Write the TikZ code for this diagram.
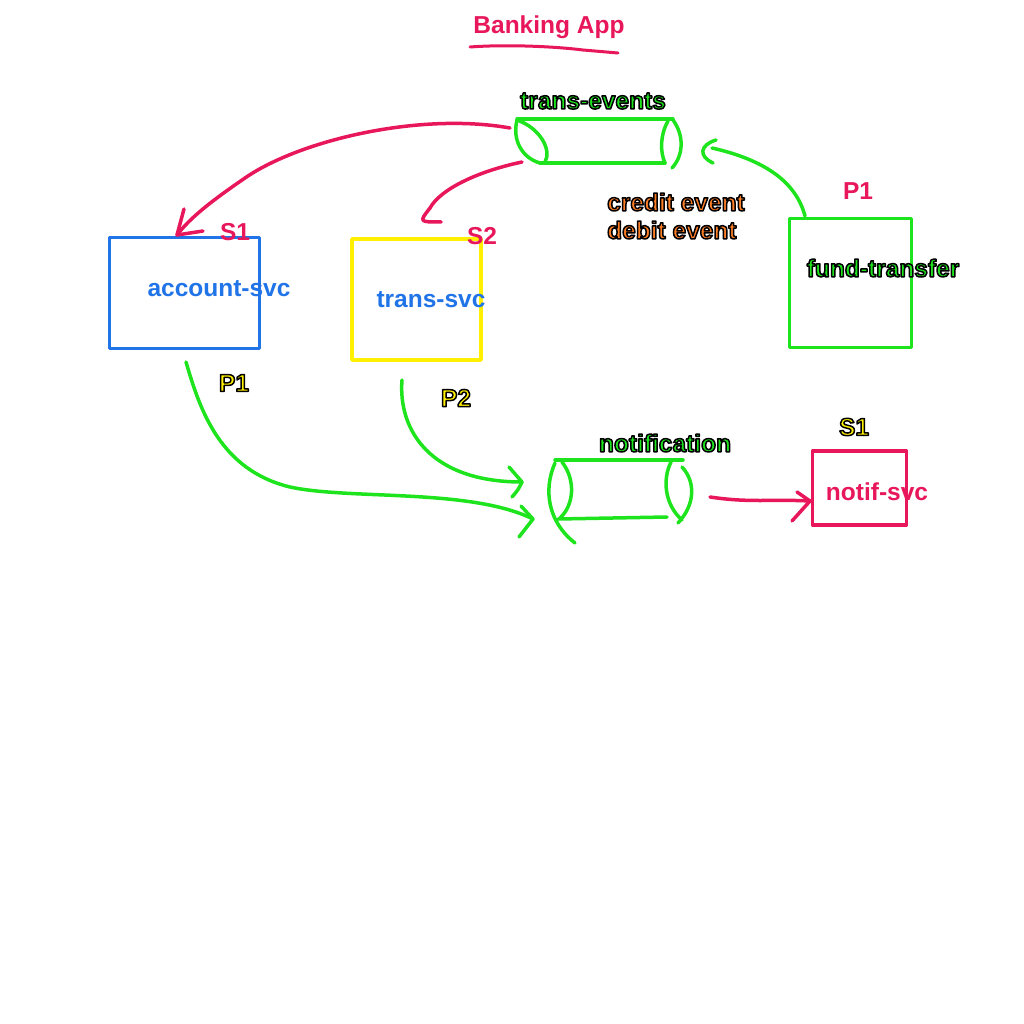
\documentclass[tikz,border=0pt]{standalone}
\usepackage{fontspec}
\setmainfont{Liberation Sans}
\definecolor{pk}{RGB}{232,22,90}
\definecolor{gr}{RGB}{30,228,30}
\definecolor{bl}{RGB}{32,116,232}
\definecolor{yl}{RGB}{255,240,0}
\definecolor{og}{RGB}{255,127,39}
\newcommand{\wlab}[2]{\textcolor{#1}{#2}}
\newcommand{\blab}[2]{\textcolor{#1}{\special{pdf:literal direct q 2 Tr 1.5 w 1 j 0 0 0 RG}#2\special{pdf:literal direct Q}}}
\tikzset{
  pen/.style={line width=3.5pt, line cap=round, line join=round},
  boxnode/.style={pen, draw, inner sep=0pt},
  lbl/.style={font=\fontsize{24.5}{28}\selectfont\bfseries, inner sep=0pt},
}
\begin{document}
\begin{tikzpicture}[x=1pt,y=-1pt]
\useasboundingbox[fill=white] (0,0) rectangle (1024,1024);

% title
\node[lbl] (title) at (549,27) {\wlab{pk}{Banking App}};
\draw[pen, pk, line width=3pt] (470,47) .. controls (510,44) and (560,47) .. (583,50) .. controls (600,51) .. (618,53);

% boxes
\node[boxnode, draw=bl, minimum width=150pt, minimum height=111pt] (acc) at (184.5,293) {};
\node[boxnode, draw=yl, minimum width=129pt, minimum height=121pt] (tsvc) at (416.5,299.5) {};
\node[boxnode, draw=gr, minimum width=122pt, minimum height=129pt] (fund) at (850.5,283) {};
\node[boxnode, draw=pk, minimum width=94pt, minimum height=74pt] (notif) at (859.5,488) {};

% box labels
\node[lbl] (accl) at (219,289) {\wlab{bl}{account-svc}};
\node[lbl] (tsvcl) at (431,300) {\wlab{bl}{trans-svc}};
\node[lbl] (fundl) at (883,268) {\blab{gr}{fund-transfer}};
\node[lbl] (notifl) at (877,492) {\wlab{pk}{notif-svc}};

% small labels
\node[lbl] (s1a) at (235,232) {\wlab{pk}{S1}};
\node[lbl] (s2) at (482,236) {\wlab{pk}{S2}};
\node[lbl] (p1f) at (858,191) {\wlab{pk}{P1}};
\node[lbl] (p1a) at (234,383) {\blab{yl}{P1}};
\node[lbl] (p2) at (456,398) {\blab{yl}{P2}};
\node[lbl] (s1n) at (854,427) {\blab{yl}{S1}};
\node[lbl, anchor=west] (ev1) at (607,202) {\blab{og}{credit event}};
\node[lbl, anchor=west] (ev2) at (607,230) {\blab{og}{debit event}};

% trans-events topic
\node[lbl] (tel) at (593,101) {\blab{gr}{trans-events}};
\draw[pen, gr] (517,119) -- (673,119);
\draw[pen, gr] (540,163) -- (665,163);
\draw[pen, gr] (517,120) .. controls (512,140) and (522,158) .. (540,163);
\draw[pen, gr] (517,120) .. controls (540,128) and (552,150) .. (545,162);
\draw[pen, gr] (668,121) .. controls (660,135) and (660,152) .. (665,163);
\draw[pen, gr] (673,120) .. controls (684,135) and (684,155) .. (672,168);

% notification topic
\node[lbl] (nl) at (665,443) {\blab{gr}{notification}};
\draw[pen, gr] (555,460) -- (683,460);
\draw[pen, gr] (558,519) -- (667,517);
\draw[pen, gr] (555,463) .. controls (543,490) and (548,522) .. (575,543);
\draw[pen, gr] (562,462) .. controls (576,480) and (574,505) .. (560,518);
\draw[pen, gr] (671,462) .. controls (662,480) and (665,505) .. (682,520);
\draw[pen, gr] (682,467) .. controls (696,482) and (695,505) .. (678,523);

% connectors
\coordinate (a1s) at (510,128);
\coordinate (a1e) at (177,235);
\draw[pen, pk] (a1s) .. controls (420,112) and (300,140) .. (245,178) .. controls (210,202) and (190,218) .. (a1e);
\draw[pen, pk] (184,209) -- (a1e) -- (203,231);

\coordinate (a2s) at (522,162);
\coordinate (a2e) at (441,222);
\draw[pen, pk] (a2s) .. controls (475,172) and (440,190) .. (430,208) .. controls (419,222) .. (a2e);

\coordinate (a3s) at (805,216);
\coordinate (a3e) at (712,148);
\draw[pen, gr] (a3s) .. controls (796,182) and (765,160) .. (a3e);
\draw[pen, gr] (716,140) .. controls (700,145) and (698,156) .. (713,163);

\coordinate (a4s) at (186,362);
\coordinate (a4e) at (533,519);
\draw[pen, gr] (a4s) .. controls (200,410) and (220,470) .. (290,487) .. controls (350,500) and (470,488) .. (a4e);
\draw[pen, gr] (521,506) -- (a4e) -- (519,537);

\coordinate (a5s) at (402,380);
\coordinate (a5e) at (522,482);
\draw[pen, gr] (a5s) .. controls (398,430) and (430,482) .. (a5e);
\draw[pen, gr] (509,467) .. controls (516,474) .. (a5e) .. controls (518,490) .. (512,497);

\coordinate (a6s) at (710,497);
\coordinate (a6e) at (810,501);
\draw[pen, pk] (a6s) .. controls (750,503) and (770,499) .. (a6e);
\draw[pen, pk] (797,492) -- (a6e) -- (792,521);
\end{tikzpicture}
\end{document}
